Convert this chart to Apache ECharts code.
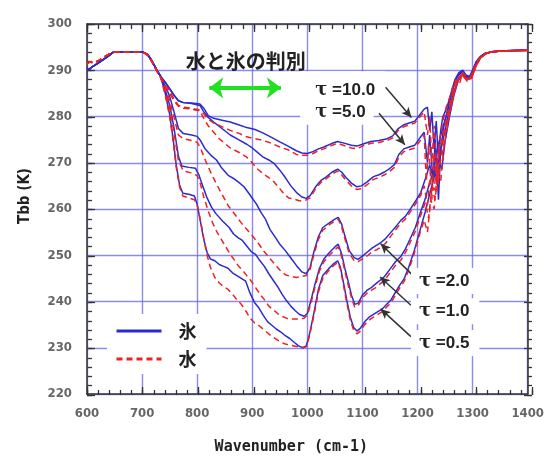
<!DOCTYPE html>
<html>
<head>
<meta charset="utf-8">
<script src="https://cdn.jsdelivr.net/npm/echarts@6/dist/echarts.min.js"></script>
<style>
  html, body { margin: 0; padding: 0; background: #fff; }
  #chart { width: 547px; height: 460px; }
</style>
</head>
<body>
<div id="chart"></div>
<script>
// shared start of the curves (600-734 cm-1)
var iceStart = [[600,290.4],[604,290.2],[610,290.8],[618,291.4],[628,292.2],[638,293.0],[648,293.9],[655,294.0],[700,294.0],[710,293.4],[718,292.0],[726,290.2],[734,288.6]];
var waterStart = [[600,291.4],[605,291.8],[612,291.6],[620,292.0],[630,292.8],[640,293.5],[650,294.0],[700,294.0],[710,293.3],[718,291.8],[726,290.0],[734,288.4]];

// ice (blue, solid)
var ice10 = [[742,287.4],[750,286.0],[758,284.6],[766,283.4],[775,283.0],[790,282.9],[805,282.7],[812,281.8],[820,280.2],[830,279.6],[845,279.2],[860,278.8],[875,278.2],[890,277.6],[905,277.2],[920,276.4],[935,275.5],[950,274.5],[965,273.6],[980,272.6],[990,272.1],[1000,272.0],[1010,272.4],[1020,273.0],[1030,273.4],[1045,274.2],[1055,274.6],[1065,274.3],[1080,273.8],[1090,273.6],[1100,274.0],[1115,274.6],[1130,274.8],[1145,275.2],[1155,275.8],[1165,277.4],[1175,278.2],[1185,278.6],[1195,279.0],[1205,280.5],[1212,281.6],[1218,282.0],[1222,277],[1226,281],[1230,273],[1234,279],[1238,270],[1242,277],[1246,280],[1250,281],[1256,283],[1262,285.5],[1268,288],[1275,289.5],[1282,290],[1288,289],[1294,288.6],[1300,290],[1306,291.8],[1314,293],[1322,293.6],[1335,294],[1360,294.2],[1400,294.3]];
var ice5 = [[742,287.4],[750,286.0],[758,284.6],[766,283.4],[775,283.0],[790,282.8],[805,282.4],[812,281.0],[820,279.8],[830,278.8],[845,277.4],[860,276.0],[875,275.0],[890,274.0],[900,273.2],[910,272.2],[920,271.2],[930,270.6],[940,269.8],[950,268.4],[960,266.8],[970,265.0],[980,263.6],[990,262.6],[998,262.3],[1005,262.9],[1015,264.8],[1025,266.2],[1035,267.0],[1045,268.0],[1055,268.6],[1062,268.0],[1070,266.8],[1080,265.6],[1090,264.8],[1098,265.0],[1108,265.8],[1120,267.0],[1130,267.4],[1140,268.0],[1150,268.8],[1158,269.6],[1166,271.8],[1175,273.0],[1185,273.4],[1195,273.8],[1205,275.5],[1212,276.6],[1218,270],[1222,276],[1228,266],[1232,275],[1238,262],[1242,273],[1248,278],[1254,281],[1262,285],[1268,287.8],[1275,289.2],[1282,289.8],[1290,288.3],[1296,288.8],[1302,290.5],[1310,292.4],[1320,293.5],[1335,294],[1360,294.2],[1400,294.3]];
var ice2 = [[742,286.6],[750,284.4],[758,281.0],[766,277.4],[775,276.3],[790,276.0],[800,275.7],[806,274.8],[815,272.9],[825,271.6],[835,270.6],[845,268.8],[857,267.2],[866,266.6],[875,265.8],[885,264.8],[895,263.2],[902,262.0],[908,261.0],[916,259.2],[924,257.8],[932,255.6],[940,254.2],[950,252.4],[960,251.0],[970,249.4],[980,247.8],[990,246.4],[998,246.0],[1005,247.4],[1012,250.8],[1020,254.0],[1028,256.0],[1040,257.0],[1050,257.8],[1056,258.2],[1062,256.8],[1068,254.2],[1076,251.0],[1085,249.5],[1092,249.1],[1100,249.8],[1110,250.8],[1118,251.6],[1126,252.2],[1134,252.8],[1142,253.6],[1152,255.0],[1162,256.4],[1170,257.6],[1178,258.4],[1188,260.2],[1198,262.0],[1206,263.6],[1214,266.5],[1222,269.5],[1228,267],[1234,272],[1240,275],[1248,278.5],[1256,282],[1264,286],[1272,288.6],[1280,289.6],[1288,288.8],[1296,288.6],[1304,291],[1312,292.6],[1322,293.6],[1335,294],[1360,294.2],[1400,294.3]];
var ice1 = [[742,285.8],[750,282.5],[758,277.5],[766,271.4],[772,269.3],[785,269.0],[797,268.8],[803,267.4],[810,265.0],[818,262.4],[826,260.4],[834,259.0],[846,257.4],[858,256.0],[866,254.6],[874,253.8],[882,253.2],[890,252.0],[898,250.8],[906,250.2],[914,248.8],[922,247.6],[930,246.0],[938,244.6],[946,243.2],[954,241.6],[962,240.2],[970,239.0],[978,238.0],[986,237.2],[994,236.8],[1000,237.4],[1006,240.0],[1014,243.8],[1022,247.2],[1030,249.2],[1040,250.6],[1050,251.8],[1056,252.4],[1062,250.4],[1068,247.2],[1074,244.4],[1080,241.4],[1086,239.4],[1092,239.6],[1100,241.4],[1108,242.4],[1116,243.0],[1124,243.8],[1132,244.6],[1140,245.4],[1150,247.0],[1160,248.6],[1170,249.8],[1178,251.4],[1186,253.4],[1196,256.0],[1205,259.2],[1214,262.2],[1222,265.8],[1230,268.4],[1236,266],[1242,272.6],[1250,277],[1258,281.6],[1266,285.4],[1274,288.2],[1282,289.4],[1290,288.2],[1298,288.6],[1306,291.2],[1314,292.8],[1324,293.6],[1335,294],[1360,294.2],[1400,294.3]];
var ice05 = [[742,285],[750,280.5],[756,275.5],[762,269.5],[768,265.2],[774,263.4],[785,263.2],[795,262.8],[800,261.0],[806,257.2],[812,253.4],[818,250.6],[824,249.2],[832,248.8],[840,248.0],[848,247.6],[856,247.2],[864,246.2],[872,245.6],[880,245.0],[888,244.4],[896,241.8],[904,239.8],[912,238.6],[920,237.0],[928,235.6],[936,234.8],[944,234.0],[952,233.4],[960,232.6],[968,232.0],[976,231.2],[984,230.4],[992,230.0],[998,230.4],[1004,233.0],[1012,237.6],[1020,242.6],[1028,245.6],[1038,247.0],[1048,248.2],[1055,248.8],[1060,247.4],[1066,243.8],[1072,240.0],[1078,236.6],[1084,234.4],[1090,233.6],[1096,234.2],[1104,235.6],[1112,236.6],[1120,237.2],[1128,237.8],[1136,238.4],[1144,239.4],[1152,240.4],[1160,242.0],[1168,243.6],[1176,245.0],[1184,247.4],[1194,251.0],[1205,255.6],[1214,259.4],[1222,263.2],[1230,266.8],[1238,270.6],[1244,268.6],[1250,274.6],[1258,280],[1266,284.6],[1274,287.8],[1282,289.2],[1290,288.0],[1298,288.4],[1306,291],[1314,292.8],[1324,293.6],[1335,294],[1360,294.2],[1400,294.3]];

// water (red, dashed)
var water10 = [[742,287],[750,285.5],[758,283.8],[766,282.4],[775,282.0],[790,281.8],[805,281.4],[812,280.6],[820,279.4],[830,278.6],[845,277.8],[860,277.0],[875,276.4],[890,275.6],[905,275.2],[920,274.8],[935,274.2],[950,273.4],[965,272.8],[980,271.8],[990,271.6],[1000,271.6],[1010,272.0],[1020,272.6],[1030,273.0],[1045,273.8],[1055,274.2],[1065,273.8],[1080,273.2],[1090,273.0],[1100,273.6],[1115,274.2],[1130,274.4],[1145,274.8],[1155,275.4],[1165,277.0],[1175,277.8],[1185,278.2],[1195,278.6],[1205,280],[1212,281],[1218,276],[1222,280],[1226,270],[1230,278],[1236,266],[1240,275],[1246,279],[1252,282],[1258,284],[1264,286.5],[1270,288],[1276,287],[1282,289.6],[1288,288.6],[1294,288],[1300,289.6],[1306,291.4],[1314,292.8],[1322,293.6],[1335,294],[1360,294.2],[1400,294.3]];
var water5 = [[742,286.6],[750,285],[758,283.4],[766,282.2],[775,281.8],[790,281.6],[805,281.2],[812,279.6],[820,278.0],[830,276.6],[840,275.2],[850,274.2],[860,273.2],[870,272.6],[880,272.0],[890,271.2],[900,270.0],[910,268.6],[920,267.6],[930,266.8],[940,265.8],[950,264.4],[958,263.2],[966,262.4],[975,262.2],[985,261.8],[995,261.8],[1005,262.4],[1015,264.4],[1025,265.8],[1035,266.6],[1045,267.6],[1055,268.2],[1062,267.4],[1070,266.2],[1080,265.0],[1090,264.2],[1098,264.4],[1108,265.2],[1120,266.4],[1130,266.8],[1140,267.4],[1150,268.2],[1158,269.0],[1166,271.2],[1175,272.4],[1185,272.8],[1195,273.2],[1205,274.8],[1212,276],[1216,266],[1220,274],[1226,262],[1230,272],[1236,264],[1242,271],[1248,277],[1254,280.5],[1262,284.5],[1268,287.2],[1276,288.6],[1282,289.4],[1290,287.6],[1296,288.2],[1302,290.2],[1310,292.2],[1320,293.4],[1335,294],[1360,294.2],[1400,294.3]];
var water2 = [[742,286],[750,283.5],[758,279.8],[766,276.0],[775,275.2],[790,274.8],[800,274.4],[806,273.2],[815,270.5],[825,267.8],[835,265.4],[845,263.2],[857,260.6],[870,258.6],[880,257.0],[890,255.6],[900,254.2],[910,252.8],[920,251.0],[930,249.6],[940,248.2],[950,246.8],[960,245.8],[970,245.4],[980,245.2],[990,245.4],[998,245.6],[1005,247.0],[1012,250.2],[1020,253.4],[1028,255.4],[1040,256.6],[1050,257.4],[1056,257.8],[1062,256.2],[1068,253.6],[1076,250.4],[1085,248.8],[1092,248.6],[1100,249.2],[1110,250.0],[1118,250.8],[1126,251.2],[1134,251.8],[1142,252.6],[1152,254.2],[1162,255.8],[1170,257.0],[1178,257.8],[1188,259.6],[1198,261.4],[1206,263],[1212,265],[1218,261],[1224,268],[1230,264],[1236,271],[1242,274],[1250,278],[1258,281.6],[1266,285.8],[1274,288.2],[1282,289.2],[1290,288.2],[1298,288.4],[1306,290.8],[1314,292.6],[1324,293.6],[1335,294],[1360,294.2],[1400,294.3]];
var water1 = [[742,285.4],[750,282],[758,276.5],[766,270.4],[775,268.2],[790,267.8],[800,267.2],[806,265.4],[812,262.6],[820,259.6],[828,257.0],[836,255.0],[846,253.0],[858,250.6],[866,249.2],[874,247.8],[882,246.8],[890,245.6],[898,244.4],[906,243.0],[914,241.6],[922,240.4],[930,239.0],[938,238.2],[946,237.4],[954,236.8],[962,236.4],[970,236.2],[978,236.2],[986,236.2],[994,236.4],[1000,237.0],[1006,239.4],[1014,243.2],[1022,246.6],[1030,248.6],[1040,250.0],[1050,251.2],[1056,251.8],[1062,249.8],[1068,246.6],[1074,243.6],[1080,240.8],[1086,238.8],[1092,239.0],[1100,240.8],[1108,241.8],[1116,242.4],[1124,243.0],[1132,243.8],[1140,244.6],[1150,246.2],[1160,247.8],[1170,249.0],[1178,250.6],[1186,252.6],[1196,255.2],[1205,258.4],[1214,261.4],[1220,258],[1226,264.6],[1232,262],[1238,269.6],[1244,271],[1250,276],[1258,281],[1266,285],[1274,288],[1282,289.2],[1290,288],[1298,288.4],[1306,291],[1314,292.6],[1324,293.6],[1335,294],[1360,294.2],[1400,294.3]];
var water05 = [[742,284.6],[750,280],[756,275],[762,269],[768,264.8],[774,262.8],[785,262.4],[795,262.0],[800,260.8],[806,257.6],[812,253.6],[818,250.0],[824,247.4],[832,245.2],[840,244.0],[848,243.2],[856,242.6],[864,241.6],[872,240.4],[880,239.4],[888,238.0],[896,236.4],[904,235.4],[912,234.8],[920,234.0],[928,233.2],[936,232.4],[944,231.8],[952,231.2],[960,230.8],[968,230.6],[976,230.4],[984,230.2],[992,230.0],[998,230.2],[1004,232.6],[1012,237.0],[1020,242.0],[1028,245.0],[1038,246.6],[1048,247.8],[1055,248.4],[1060,247.0],[1066,243.2],[1072,239.4],[1078,236.0],[1084,233.8],[1090,233.0],[1096,233.6],[1104,235.0],[1112,236.0],[1120,236.6],[1128,237.2],[1136,237.8],[1144,238.8],[1152,239.8],[1160,241.4],[1168,243.0],[1176,244.4],[1184,246.8],[1194,250.4],[1205,255],[1212,257.6],[1218,255],[1224,262],[1230,260],[1236,268],[1242,266],[1248,273.4],[1256,279],[1264,283.8],[1272,287.4],[1280,289],[1290,287.8],[1298,288.2],[1306,290.8],[1314,292.6],[1324,293.6],[1335,294],[1360,294.2],[1400,294.3]];

var tauLabels = ['10.0', '5.0', '2.0', '1.0', '0.5'];
var xTicks = [600, 1400, 100, 20];
var yTicks = [220, 300, 10, 2];

var myChart = echarts.init(document.getElementById('chart'));

var labelFont = "'Liberation Sans Narrow', 'DejaVu Sans Condensed', 'Liberation Sans', sans-serif";
var monoFont = "'DejaVu Sans Mono', 'Liberation Mono', monospace";
var jpFont = "'Noto Sans CJK JP', sans-serif";
var gridColor = 'rgba(100,100,230,0.75)';
var tickColor = '#333';

function axisBase(pos, isX) {
  return {
    type: 'value',
    position: pos,
    min: isX ? xTicks[0] : yTicks[0],
    max: isX ? xTicks[1] : yTicks[1],
    interval: isX ? xTicks[2] : yTicks[2],
    axisLine: { show: true, lineStyle: { color: '#333', width: 1.5 } },
    axisTick: { show: false },
    axisLabel: { show: false },
    splitLine: { show: false }
  };
}

var xMain = axisBase('bottom', true);
xMain.axisLabel = { show: true, margin: 13, color: '#666', fontSize: 13, fontWeight: 'bold', fontFamily: labelFont,
  formatter: function (v) { return String(v); } };
xMain.splitLine = { show: true, lineStyle: { color: gridColor, width: 1.4 } };
xMain.name = 'Wavenumber (cm-1)';
xMain.nameLocation = 'middle';
xMain.nameGap = 46;
xMain.nameTextStyle = { color: '#222', fontSize: 15, fontWeight: 'bold', fontFamily: monoFont, padding: [0, 32, 0, 0] };

var yMain = axisBase('left', false);
yMain.axisLabel = { show: true, margin: 15, color: '#666', fontSize: 13, fontWeight: 'bold', fontFamily: labelFont,
  formatter: function (v) { return String(v); } };
yMain.splitLine = { show: true, lineStyle: { color: gridColor, width: 1.4 } };
yMain.name = 'Tbb (K)';
yMain.nameLocation = 'middle';
yMain.nameGap = 54;
yMain.nameTextStyle = { color: '#222', fontSize: 15, fontWeight: 'bold', fontFamily: "'DejaVu Sans Condensed', sans-serif", padding: [0, 0, 0, 26] };

// inner tick marks: thin grids along each side whose split lines act as ticks
var grids = [{ left: 87, right: 15, top: 24, bottom: 65 }];
var xAxes = [xMain, axisBase('top', true)];
var yAxes = [yMain, axisBase('right', false)];

function tickStrip(gridOpt, isX, step) {
  var g = grids.length;
  grids.push(gridOpt);
  var ruled = {
    type: 'value', gridIndex: g,
    min: isX ? xTicks[0] : yTicks[0],
    max: isX ? xTicks[1] : yTicks[1],
    interval: step,
    axisLine: { show: false }, axisTick: { show: false }, axisLabel: { show: false },
    splitLine: { show: true, lineStyle: { color: tickColor, width: 1.3 } }
  };
  var hidden = { type: 'value', gridIndex: g, show: false };
  xAxes.push(isX ? ruled : hidden);
  yAxes.push(isX ? hidden : ruled);
}
tickStrip({ left: 87, right: 15, top: 390, height: 5 }, true, xTicks[3]);
tickStrip({ left: 87, right: 15, top: 387, height: 8 }, true, xTicks[2]);
tickStrip({ left: 87, right: 15, top: 24, height: 5 }, true, xTicks[3]);
tickStrip({ left: 87, right: 15, top: 24, height: 8 }, true, xTicks[2]);
tickStrip({ left: 87, width: 5, top: 24, bottom: 65 }, false, yTicks[3]);
tickStrip({ left: 87, width: 8, top: 24, bottom: 65 }, false, yTicks[2]);
tickStrip({ right: 15, width: 5, top: 24, bottom: 65 }, false, yTicks[3]);
tickStrip({ right: 15, width: 8, top: 24, bottom: 65 }, false, yTicks[2]);

var iceSets = [ice10, ice5, ice2, ice1, ice05];
var waterSets = [water10, water5, water2, water1, water05];

var series = [];
iceSets.forEach(function (d) {
  series.push({
    name: '氷', type: 'line', showSymbol: false, symbol: 'none',
    data: iceStart.concat(d),
    lineStyle: { color: '#2b2bd0', width: 1.5 },
    itemStyle: { color: '#2b2bd0' },
    z: 2
  });
});
waterSets.forEach(function (d) {
  series.push({
    name: '水', type: 'line', showSymbol: false, symbol: 'none',
    data: waterStart.concat(d),
    lineStyle: { color: '#ee2222', width: 1.5, type: [6, 4] },
    itemStyle: { color: '#ee2222' },
    z: 3
  });
});

// pointer arrows from the tau labels to the curves
series[0].markLine = {
  silent: true,
  symbol: ['none', 'arrow'],
  symbolSize: [7, 10],
  label: { show: false },
  lineStyle: { color: '#333', width: 1.5, type: 'solid' },
  data: [
    [{ coord: [1142, 286.3] }, { coord: [1189, 279.8] }],
    [{ coord: [1130, 280.7] }, { coord: [1177, 273.9] }],
    [{ coord: [1191, 245.7] }, { coord: [1133, 252.5] }],
    [{ coord: [1188, 239.2] }, { coord: [1132, 245.3] }],
    [{ coord: [1188, 232.4] }, { coord: [1133, 238.4] }]
  ]
};

// green double arrow
series[1].markLine = {
  silent: true,
  symbol: ['arrow', 'arrow'],
  symbolSize: [16, 14],
  label: { show: false },
  lineStyle: { color: '#22e022', width: 4, type: 'solid' },
  data: [
    [{ coord: [822, 286.2] }, { coord: [952, 286.2] }]
  ]
};

function textPoint(coord, text, rich, pad, bg) {
  return {
    coord: coord,
    symbol: 'circle',
    symbolSize: 1,
    itemStyle: { color: 'rgba(0,0,0,0)' },
    label: {
      show: true,
      position: [0, 0],
      align: 'left',
      verticalAlign: 'middle',
      formatter: text,
      backgroundColor: bg,
      padding: pad,
      rich: rich
    }
  };
}

var tauRich = {
  t: { fontFamily: "'DejaVu Serif', serif", fontSize: 18, fontWeight: 'bold', color: '#222' },
  n: { fontFamily: "'Liberation Sans', Arial, sans-serif", fontSize: 17, fontWeight: 'bold', color: '#222' }
};
var tauPos = [[988, 286.2], [988, 280.9], [1189, 244.3], [1189, 237.8], [1189, 230.9]];
var tauPad = [[10, 10, 4, 15], [4, 8, 4, 15], [4, 10, 4, 8], [4, 10, 4, 8], [4, 10, 4, 8]];
var points = tauLabels.map(function (t, i) {
  return textPoint(tauPos[i], '{t|τ}{n| =' + t + '}', tauRich, tauPad[i], '#fff');
});
points.push(textPoint([780, 291.7], '{j|水と氷の判別}', {
  j: { fontFamily: jpFont, fontSize: 20, fontWeight: 'bold', color: '#222' }
}, [0, 0], 'transparent'));

series[2].markPoint = {
  silent: true,
  animation: false,
  data: points
};

var option = {
  animation: false,
  backgroundColor: '#fff',
  grid: grids,
  legend: {
    data: ['氷', '水'],
    orient: 'vertical',
    left: 107,
    top: 314,
    itemWidth: 45,
    itemHeight: 14,
    itemGap: 10,
    padding: [8, 10, 6, 8],
    backgroundColor: '#fff',
    itemStyle: { color: 'rgba(0,0,0,0)', borderColor: 'rgba(0,0,0,0)', borderWidth: 0 },
    lineStyle: { width: 3 },
    textStyle: { fontFamily: jpFont, fontSize: 18, fontWeight: 'bold', color: '#222', padding: [0, 0, 0, 12] }
  },
  xAxis: xAxes,
  yAxis: yAxes,
  series: series
};

option && myChart.setOption(option);
</script>
</body>
</html>
